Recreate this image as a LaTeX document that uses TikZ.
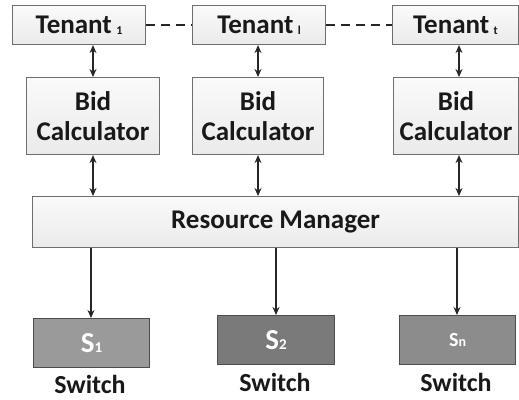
\documentclass[tikz,border=0pt]{standalone}
\usepackage{fontspec}
\setmainfont{Carlito}
\usetikzlibrary{arrows.meta}
\definecolor{boxline}{HTML}{6E6E6E}
\definecolor{swA}{HTML}{9A9A9A}
\definecolor{swB}{HTML}{7A7A7A}
\definecolor{swC}{HTML}{8C8C8C}
\newcommand{\subidx}[2][12]{{\fontsize{#1}{#1}\selectfont\raisebox{-0.5pt}{#2}}}
\tikzset{
  lightbox/.style={draw=boxline, line width=1.1pt, top color=gray!4, bottom color=gray!16,
    font=\fontsize{27}{30}\selectfont\bfseries, text=black!90, align=center,
    inner sep=0pt, anchor=north west},
  switchbox/.style={draw=gray!60!black, line width=1.1pt, inner sep=0pt, anchor=north west,
    font=\fontsize{29}{29}\selectfont\bfseries, text=white},
  swlabel/.style={font=\fontsize{26}{26}\selectfont\bfseries, text=black!90, anchor=base, inner sep=0pt},
  link/.style={line width=1.3pt, black!85},
  tip/.style={-{Stealth[length=8pt,width=7pt]}},
  dtip/.style={{Stealth[length=8pt,width=7pt]}-{Stealth[length=8pt,width=7pt]}},
}
\begin{document}
\begin{tikzpicture}[x=1pt,y=-1pt]
  \useasboundingbox (0,0) rectangle (519,399);

  % tenants
  \node[lightbox, minimum width=133pt, minimum height=39pt] (t1) at (12,5) {Tenant\,\subidx{1}};
  \node[lightbox, minimum width=133pt, minimum height=39pt] (tl) at (192,5) {Tenant\,\subidx{l}};
  \node[lightbox, minimum width=126pt, minimum height=39pt] (tt) at (392,5) {Tenant\,\subidx{t}};

  % bid calculators
  \node[lightbox, minimum width=133pt, minimum height=77pt] (b1) at (26,77) {Bid\\Calculator};
  \node[lightbox, minimum width=131pt, minimum height=77pt] (bl) at (192,77) {Bid\\Calculator};
  \node[lightbox, minimum width=125pt, minimum height=77pt] (bt) at (393,77) {Bid\\Calculator};

  % resource manager
  \node[lightbox, minimum width=486pt, minimum height=51pt] (rm) at (32,196) {Resource Manager};

  % switches
  \node[switchbox, fill=swA, minimum width=116pt, minimum height=49pt] (s1) at (33,318) {S\subidx[15]{1}};
  \node[switchbox, fill=swB, minimum width=117pt, minimum height=49pt] (s2) at (217,315) {S\subidx[15]{2}};
  \node[switchbox, fill=swC, minimum width=116pt, minimum height=49pt, font=\fontsize{20}{20}\selectfont\bfseries] (sn) at (399,315) {S\subidx[14]{n}};

  \node[swlabel] (l1) at (90,393) {Switch};
  \node[swlabel] (l2) at (275,391) {Switch};
  \node[swlabel] (l3) at (456,391) {Switch};

  % dashed links between tenants
  \draw[link, line width=1.5pt, dash pattern=on 9pt off 6pt] (t1.east) -- (tl.west);
  \draw[link, line width=1.5pt, dash pattern=on 9pt off 6pt] (tl.east) -- (tt.west);

  % tenant <-> bid calculator
  \draw[link, dtip] (t1.south -| 93,0) -- (b1.north -| 93,0);
  \draw[link, dtip] (tl.south -| 258,0) -- (bl.north -| 258,0);
  \draw[link, dtip] (tt.south -| 459,0) -- (bt.north -| 459,0);

  % bid calculator <-> resource manager
  \draw[link, dtip] (b1.south -| 93,0) -- (rm.north -| 93,0);
  \draw[link, dtip] (bl.south -| 258,0) -- (rm.north -| 258,0);
  \draw[link, dtip] (bt.south -| 459,0) -- (rm.north -| 459,0);

  % resource manager -> switches
  \draw[link, tip] (rm.south -| 91,0) -- (s1.north -| 91,0);
  \draw[link, tip] (rm.south -| 276,0) -- (s2.north -| 276,0);
  \draw[link, tip] (rm.south -| 457,0) -- (sn.north -| 457,0);
\end{tikzpicture}
\end{document}
